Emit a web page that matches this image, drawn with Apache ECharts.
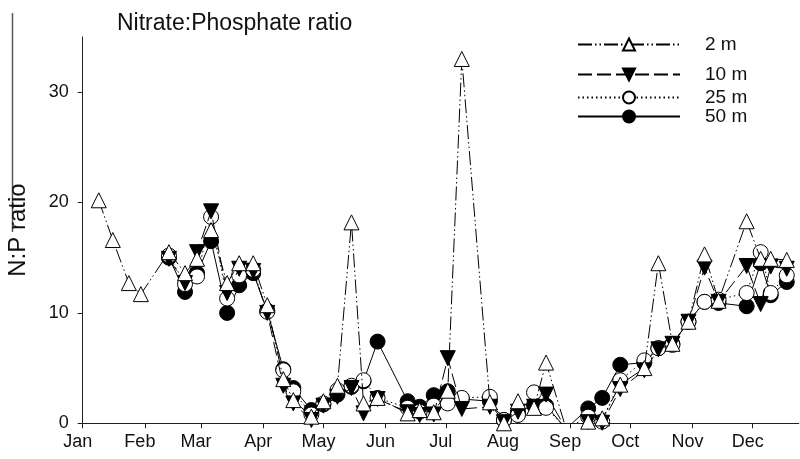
<!DOCTYPE html>
<html><head><meta charset="utf-8">
<script src="https://cdn.jsdelivr.net/npm/echarts@6/dist/echarts.min.js"></script>
<style>html,body{margin:0;padding:0;background:#fff}#c{width:800px;height:459px}</style>
</head><body><div id="c"></div>
<script>
// Month tick labels and the day of year (Jan 1 = 0) at which each month starts
const monthLabels = ['Jan','Feb','Mar','Apr','May','Jun','Jul','Aug','Sep','Oct','Nov','Dec'];
const monthStartDays = [0,31,59,90,120,151,181,212,243,273,304,334];
const yTickValues = [0,10,20,30];

// Sampling days (day of year)
const sampleDays = [8,15,23,29,43,51,57,64,72,78,85,92,100,105,114,120,127,134,140,147,162,168,175,182,189,203,210,217,225,231,241,252,259,268,280,287,294,302,310,317,331,338,343,351];

// N:P ratio per depth (null = not sampled)
const ratio2m  = [20.2,16.6,12.7,11.7,15.5,13.6,14.9,17.5,12.7,14.5,14.5,10.7,4.0,2.1,0.6,2.0,3.4,18.2,1.8,2.3,0.9,1.2,1.0,2.95,33.0,1.9,0.0,2.0,1.4,5.5,-0.5,0.15,0.45,3.5,5.0,14.5,7.2,9.2,15.3,11.1,18.3,14.9,14.9,14.8];
const ratio10m = [null,null,null,null,14.9,12.7,15.5,19.2,11.8,14.0,13.8,10.0,3.4,1.8,0.3,1.6,2.4,3.2,0.9,2.2,1.0,0.75,0.8,5.9,1.3,1.5,0.1,1.05,1.5,2.6,-0.5,0.1,0.05,3.1,4.8,6.7,7.2,9.2,14.1,11.0,14.25,10.8,14.2,14.0];
const ratio25m = [null,null,null,null,15.2,12.6,13.3,18.7,11.3,13.4,13.9,10.1,4.8,2.9,0.8,1.8,3.0,3.4,3.9,2.3,1.4,1.05,1.6,1.8,2.3,2.4,0.3,0.75,2.8,1.4,-0.5,0.6,0.15,3.9,5.7,6.8,7.1,9.2,11.0,11.2,11.8,15.5,11.8,13.4];
const ratio50m = [null,null,null,null,15.0,11.9,13.6,16.5,10.0,12.5,13.6,10.2,4.9,3.2,1.2,1.7,2.6,3.3,3.8,7.4,2.0,1.5,2.55,2.9,2.2,2.0,0.3,1.05,1.65,1.6,-0.5,1.35,2.3,5.3,5.5,6.8,7.2,9.2,11.0,10.9,10.6,14.5,11.6,12.8];

const FONT = 'Liberation Sans';
const toData = arr => sampleDays.map((d,i)=>[d,arr[i]]).filter(p=>p[1]!==null);

const chart = echarts.init(document.getElementById('c'));
const mk = (name, arr, dash, symbol, fill, rotate, z) => ({
  name, type:'line', data: toData(arr), z,
  symbol, symbolSize: 15, symbolRotate: rotate, showAllSymbol: true,
  clip: true,
  lineStyle: {color:'#000', width:1, type: dash},
  itemStyle: {color: fill, borderColor:'#000', borderWidth:1},
  emphasis: {disabled:true}, animation:false
});
const legendAt = (name, top) => ({
  data:[name], left:577, top, itemWidth:102, itemHeight:15, padding:0,
  selectedMode:false,
  textStyle:{fontFamily:FONT, fontSize:19, color:'#111', padding:[0,0,0,20]}
});

chart.setOption({
  animation:false,
  backgroundColor:'#fff',
  title:{text:'Nitrate:Phosphate ratio', left:112, top:7,
    textStyle:{fontFamily:FONT, fontSize:23, fontWeight:'normal', color:'#111'}},
  legend:[legendAt('2 m',35), legendAt('10 m',65), legendAt('25 m',88), legendAt('50 m',107)],
  grid:{left:82.7, right:1.2, top:36.9, bottom:35.7, containLabel:false, outerBoundsMode:'none'},
  xAxis:{type:'value', min:0, max:357,
    axisLine:{lineStyle:{color:'#222', width:1}},
    axisTick:{show:true, length:5, customValues: monthStartDays, lineStyle:{color:'#222'}},
    axisLabel:{customValues: monthStartDays, margin:10, padding:[0,10,0,0],
      fontFamily:FONT, fontSize:18, color:'#111',
      formatter: v => monthLabels[monthStartDays.indexOf(v)]},
    splitLine:{show:false}},
  yAxis:{type:'value', min:0, max:35,
    name:'N:P ratio', nameLocation:'middle', nameGap:52,
    nameTextStyle:{fontFamily:FONT, fontSize:24, color:'#111'},
    axisLine:{show:true, lineStyle:{color:'#222', width:1}},
    axisTick:{show:true, length:5, customValues: yTickValues, lineStyle:{color:'#222'}},
    axisLabel:{customValues: yTickValues, margin:14, fontFamily:FONT, fontSize:18, color:'#111'},
    splitLine:{show:false}},
  graphic:[{type:'line', shape:{x1:12.5, y1:13, x2:12.5, y2:232}, style:{stroke:'#555', lineWidth:1.5}, silent:true}],
  series:[
    mk('2 m', ratio2m, [14,3,1.5,3,1.5,3], 'triangle', '#fff', 0, 5),
    mk('10 m', ratio10m, [14,5], 'triangle', '#000', 180, 4),
    mk('25 m', ratio25m, [1.5,3], 'circle', '#fff', 0, 3),
    mk('50 m', ratio50m, 'solid', 'circle', '#000', 0, 2)
  ]
});
</script></body></html>
